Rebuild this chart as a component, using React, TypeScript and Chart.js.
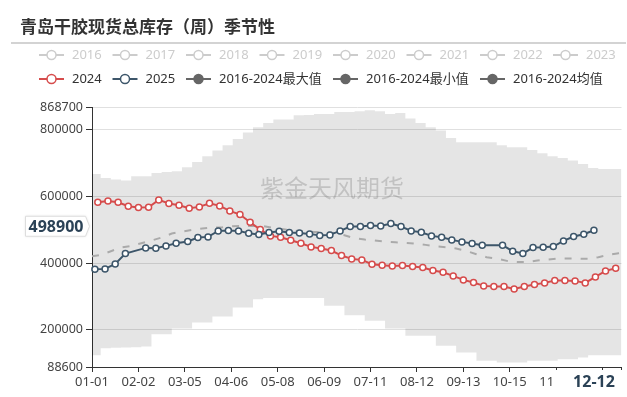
import React, { useEffect, useRef } from 'react';
import { Chart, registerables } from 'chart.js';

Chart.register(...registerables);

const TITLE = '青岛干胶现货总库存（周）季节性';
const WATERMARK = '紫金天风期货';
const FONT = "'Noto Sans', 'Noto Sans CJK SC', sans-serif";
const CJK_FONT = "'Noto Sans CJK SC', 'Noto Sans', sans-serif";

// Category axis: every day of a (leap) year as MM-DD
const MONTH_DAYS = [31, 29, 31, 30, 31, 30, 31, 31, 30, 31, 30, 31];
const CATEGORIES: string[] = MONTH_DAYS.flatMap((n, m) =>
  Array.from({ length: n }, (_, d) => `${String(m + 1).padStart(2, '0')}-${String(d + 1).padStart(2, '0')}`)
);
const X_TICK_LABELS = ['01-01', '02-02', '03-05', '04-06', '05-08', '06-09', '07-11', '08-12', '09-13', '10-15', '11-16', '12-18'];
const Y_TICKS = [88600, 200000, 400000, 600000, 800000, 868700];
const Y_MIN = 88600;
const Y_MAX = 868700;

const LEGEND_HIDDEN = ['2016', '2017', '2018', '2019', '2020', '2021', '2022', '2023'];
const LEGEND_SHOWN = ['2024', '2025', '2016-2024最大值', '2016-2024最小值', '2016-2024均值'];

const COLOR_2024 = '#d64c4c';
const COLOR_2025 = '#3d566a';
const COLOR_STAT = '#666666';

const DATES_2024 = ['01-05', '01-12', '01-19', '01-26', '02-02', '02-09', '02-16', '02-23', '03-01', '03-08', '03-15', '03-22', '03-29',
  '04-05', '04-12', '04-19', '04-26', '05-03', '05-10', '05-17', '05-24', '05-31', '06-07', '06-14', '06-21', '06-28',
  '07-05', '07-12', '07-19', '07-26', '08-02', '08-09', '08-16', '08-23', '08-30', '09-06', '09-13', '09-20', '09-27',
  '10-04', '10-11', '10-18', '10-25', '11-01', '11-08', '11-15', '11-22', '11-29', '12-06', '12-13', '12-20', '12-27'];
const VALUES_2024 = [583000, 587000, 583000, 571000, 567000, 568000, 590000, 579000, 574000, 565000, 569000, 580000, 572000,
  557000, 546000, 523000, 501000, 482000, 478000, 469000, 460000, 449000, 444000, 438000, 423000, 413000,
  410000, 397000, 394000, 392000, 393000, 390000, 387000, 378000, 373000, 362000, 350000, 342000, 332000,
  330000, 330000, 323000, 330000, 336000, 341000, 348000, 348000, 347000, 341000, 359000, 377000, 385000];

const DATES_2025 = ['01-03', '01-10', '01-17', '01-24', '02-07', '02-14', '02-21', '02-28', '03-07', '03-14', '03-21', '03-28',
  '04-04', '04-11', '04-18', '04-25', '05-02', '05-09', '05-16', '05-23', '05-30', '06-06', '06-13', '06-20', '06-27',
  '07-04', '07-11', '07-18', '07-25', '08-01', '08-08', '08-15', '08-22', '08-29', '09-05', '09-12', '09-19', '09-26',
  '10-10', '10-17', '10-24', '10-31', '11-07', '11-14', '11-21', '11-28', '12-05', '12-12'];
const VALUES_2025 = [382000, 383000, 398000, 429000, 446000, 445000, 452000, 460000, 465000, 477000, 479000, 497000,
  498000, 497000, 490000, 486000, 492000, 496000, 492000, 491000, 488000, 483000, 485000, 497000, 510000,
  510000, 513000, 512000, 519000, 510000, 497000, 493000, 482000, 478000, 470000, 464000, 459000, 454000,
  454000, 436000, 429000, 447000, 448000, 450000, 467000, 480000, 487000, 498900];

const BAND_DATES = ['01-01', '01-07', '01-14', '01-21', '01-28', '02-04', '02-11', '02-18', '02-25', '03-03', '03-10', '03-17', '03-24', '03-31',
  '04-07', '04-14', '04-21', '04-28', '05-05', '05-12', '05-19', '05-26', '06-02', '06-09', '06-16', '06-23', '06-30',
  '07-07', '07-14', '07-21', '07-28', '08-04', '08-11', '08-18', '08-25', '09-01', '09-08', '09-15', '09-22', '09-29',
  '10-06', '10-13', '10-20', '10-27', '11-03', '11-10', '11-17', '11-24', '12-01', '12-08', '12-15', '12-22', '12-29', '12-31'];
const MAX_VALUES = [681000, 668000, 656000, 651000, 648000, 661000, 661000, 671000, 674000, 676000, 688000, 704000, 721000, 738000,
  754000, 773000, 792000, 808000, 821000, 831000, 831000, 844000, 845000, 848000, 848000, 854000, 854000,
  856000, 859000, 856000, 848000, 851000, 834000, 821000, 808000, 798000, 776000, 763000, 763000, 763000,
  763000, 754000, 748000, 748000, 740000, 730000, 721000, 716000, 708000, 698000, 686000, 683000, 683000, 683000];
const MIN_VALUES = [124000, 124000, 145000, 146000, 147000, 148000, 150000, 187000, 187000, 204000, 204000, 222000, 222000, 240000,
  240000, 267000, 267000, 292000, 296000, 296000, 296000, 296000, 296000, 296000, 272000, 272000, 244000,
  244000, 227000, 227000, 204000, 204000, 182000, 182000, 182000, 152000, 152000, 132000, 132000, 107000,
  107000, 102000, 102000, 102000, 107000, 107000, 107000, 112000, 112000, 117000, 124000, 124000, 124000, 124000];
const MEAN_VALUES = [421000, 425000, 436000, 447000, 452000, 460000, 468000, 477000, 489000, 495000, 500000, 504000, 507000, 508000,
  511000, 512000, 512000, 511000, 506000, 502000, 498000, 496000, 494000, 493000, 491000, 484000, 475000,
  471000, 468000, 465000, 463000, 461000, 459000, 455000, 451000, 448000, 444000, 437000, 427000, 418000,
  414000, 407000, 404000, 404000, 408000, 411000, 414000, 414000, 414000, 413000, 418000, 425000, 430000, 431000];

const pts = (dates: string[], values: number[]) => dates.map((d, i) => ({ x: d, y: values[i] }));

function drawIcon(ctx: CanvasRenderingContext2D, x: number, y: number, color: string, filled: boolean) {
  ctx.save();
  ctx.strokeStyle = color;
  ctx.lineWidth = 2;
  ctx.beginPath();
  ctx.moveTo(x, y);
  ctx.lineTo(x + 25, y);
  ctx.stroke();
  ctx.beginPath();
  ctx.arc(x + 12.5, y, 4.5, 0, Math.PI * 2);
  ctx.fillStyle = filled ? color : '#ffffff';
  ctx.fill();
  ctx.lineWidth = 1.5;
  ctx.stroke();
  ctx.restore();
}

const decorPlugin = {
  id: 'decor',
  afterDatasetsDraw(chart: any) {
    const ctx: CanvasRenderingContext2D = chart.ctx;
    ctx.save();
    ctx.font = `24px ${CJK_FONT}`;
    ctx.fillStyle = 'rgba(120,120,120,0.33)';
    ctx.textAlign = 'left';
    ctx.textBaseline = 'middle';
    ctx.fillText(WATERMARK, 260, 188);
    ctx.restore();
  },
  afterDraw(chart: any) {
    const ctx: CanvasRenderingContext2D = chart.ctx;
    ctx.save();
    // title
    ctx.font = `bold 17px ${CJK_FONT}`;
    ctx.fillStyle = '#333';
    ctx.textAlign = 'left';
    ctx.textBaseline = 'middle';
    ctx.fillText(TITLE, 20, 27);
    ctx.strokeStyle = '#c4c4c4';
    ctx.lineWidth = 1.5;
    ctx.beginPath();
    ctx.moveTo(11, 43);
    ctx.lineTo(626, 43);
    ctx.stroke();

    // legend
    ctx.font = `13px ${FONT}`;
    const row1X = [39, 112.5, 186, 259.5, 333, 406.5, 480, 553];
    LEGEND_HIDDEN.forEach((t, i) => {
      drawIcon(ctx, row1X[i], 55, '#cccccc', false);
      ctx.fillStyle = '#cccccc';
      ctx.fillText(t, row1X[i] + 33, 55);
    });
    const row2X = [39, 112.5, 186, 333, 480];
    const row2C = [COLOR_2024, COLOR_2025, COLOR_STAT, COLOR_STAT, COLOR_STAT];
    LEGEND_SHOWN.forEach((t, i) => {
      drawIcon(ctx, row2X[i], 79, row2C[i], i >= 2);
      ctx.fillStyle = '#333';
      ctx.fillText(t, row2X[i] + 33, 79);
    });

    // axis pointer labels
    const xs = chart.scales.x;
    const ys = chart.scales.y;
    const lastDate = DATES_2025[DATES_2025.length - 1];
    const lastVal = VALUES_2025[VALUES_2025.length - 1];
    const px = xs.getPixelForValue(CATEGORIES.indexOf(lastDate));
    ctx.fillStyle = '#ffffff';
    ctx.fillRect(px - 41, 370, 627 - (px - 41), 27);
    ctx.font = `bold 16px ${FONT}`;
    ctx.fillStyle = '#2b4256';
    ctx.textAlign = 'center';
    ctx.fillText(lastDate, px, 382);

    const py = ys.getPixelForValue(lastVal) - 4;
    ctx.beginPath();
    ctx.moveTo(25.5, py - 10);
    ctx.lineTo(85.5, py - 10);
    ctx.lineTo(89.5, py);
    ctx.lineTo(85.5, py + 10);
    ctx.lineTo(25.5, py + 10);
    ctx.closePath();
    ctx.shadowColor = 'rgba(0,0,0,0.12)';
    ctx.shadowBlur = 3;
    ctx.fillStyle = '#ffffff';
    ctx.fill();
    ctx.shadowBlur = 0;
    ctx.shadowColor = 'transparent';
    ctx.strokeStyle = '#dddddd';
    ctx.lineWidth = 1;
    ctx.stroke();
    ctx.fillStyle = '#2b4256';
    ctx.fillText(String(lastVal), 56, py + 1);
    ctx.restore();
  },
};

export default function App() {
  const ref = useRef<HTMLCanvasElement | null>(null);
  useEffect(() => {
    if (!ref.current) return;
    const lineStyle = (color: string) => ({
      borderColor: color,
      backgroundColor: color,
      borderWidth: 2,
      pointRadius: 3,
      pointBorderWidth: 1.5,
      pointBorderColor: color,
      pointBackgroundColor: '#ffffff',
      tension: 0,
      fill: false,
    });
    const chart = new Chart(ref.current, {
      type: 'line',
      data: {
        labels: CATEGORIES,
        datasets: [
          { label: '2025', data: pts(DATES_2025, VALUES_2025), ...lineStyle(COLOR_2025), order: 0 } as any,
          { label: '2024', data: pts(DATES_2024, VALUES_2024), ...lineStyle(COLOR_2024), order: 1 } as any,
          {
            label: '2016-2024均值', data: pts(BAND_DATES, MEAN_VALUES), borderColor: '#aaaaaa', borderWidth: 2,
            borderDash: [7, 9], pointRadius: 0, tension: 0, fill: false, order: 2,
          } as any,
          {
            label: '2016-2024最大值', data: pts(BAND_DATES, MAX_VALUES), borderColor: 'transparent', borderWidth: 0,
            pointRadius: 0, stepped: 'after', fill: '+1', backgroundColor: 'rgba(0,0,0,0.1)', order: 3,
          } as any,
          {
            label: '2016-2024最小值', data: pts(BAND_DATES, MIN_VALUES), borderColor: 'transparent', borderWidth: 0,
            pointRadius: 0, stepped: 'after', fill: false, order: 4,
          } as any,
        ],
      },
      options: {
        animation: false,
        responsive: false,
        devicePixelRatio: 1,
        layout: { padding: { top: 107, right: 5, left: 0, bottom: 0 } },
        plugins: { legend: { display: false }, title: { display: false }, tooltip: { enabled: false } },
        scales: {
          x: {
            type: 'category',
            offset: false,
            grid: { drawOnChartArea: false, drawTicks: true, tickLength: 5, tickColor: '#333' },
            border: { color: '#333', width: 1 },
            ticks: {
              autoSkip: false, maxRotation: 0, minRotation: 0, padding: 2, color: '#444',
              font: { size: 13, family: FONT },
              callback: (v: any) => (v === CATEGORIES.length - 1 ? '' : CATEGORIES[v]),
            },
            afterBuildTicks: (s: any) => {
              s.ticks = [...X_TICK_LABELS.map((l) => ({ value: CATEGORIES.indexOf(l) })), { value: CATEGORIES.length - 1 }];
            },
            afterFit: (s: any) => { s.height = 30; },
          },
          y: {
            type: 'linear',
            min: Y_MIN,
            max: Y_MAX,
            grid: { color: '#e0e0e0', tickColor: '#333', tickLength: 6, drawTicks: true },
            border: { color: '#333', width: 1 },
            ticks: { color: '#444', font: { size: 12.5, family: FONT }, padding: 3, callback: (v: any) => String(v) },
            afterBuildTicks: (s: any) => { s.ticks = Y_TICKS.map((v) => ({ value: v })); },
            afterFit: (s: any) => { s.width = 92; },
          },
        },
      } as any,
      plugins: [decorPlugin],
    });
    return () => chart.destroy();
  }, []);
  return (
    <div style={{ position: 'fixed', left: 0, top: 0, width: 627, height: 397, background: '#fff' }}>
      <canvas ref={ref} width={627} height={397} style={{ width: 627, height: 397 }} />
    </div>
  );
}
